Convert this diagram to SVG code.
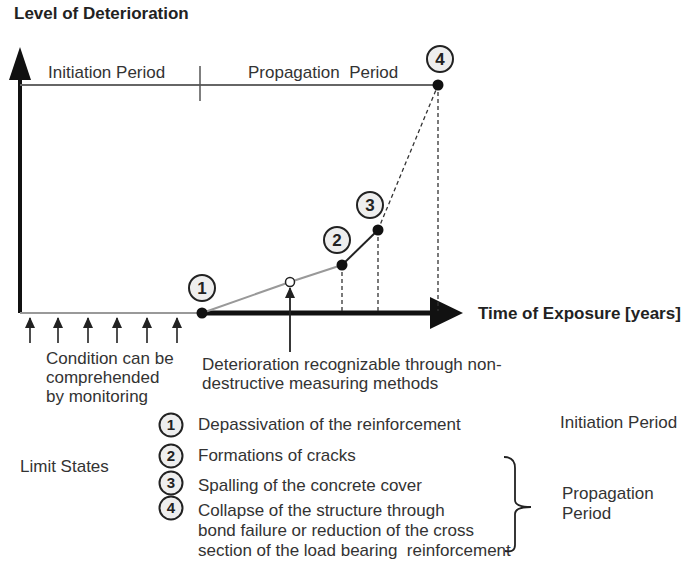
<svg xmlns="http://www.w3.org/2000/svg" width="681" height="561" viewBox="0 0 681 561">
<style>
text{font-family:"Liberation Sans",Arial,sans-serif;fill:#333;font-size:17px}
.b{font-weight:bold;fill:#222}
.num{font-weight:bold;font-size:17px;text-anchor:middle;fill:#222}
.lnum{font-size:15px}
.circ{fill:#eee;stroke:#222;stroke-width:2}
.dot{fill:#111}
.dash{stroke:#333;stroke-width:1.3;stroke-dasharray:4 3;fill:none}
</style>
<defs>
<marker id="sa" markerWidth="11" markerHeight="10" refX="10" refY="5" orient="auto" markerUnits="userSpaceOnUse" viewBox="0 0 11 10"><path d="M0,0 L11,5 L0,10 Z" fill="#222"/></marker>
</defs>
<rect width="681" height="561" fill="#fff"/>
<text class="b" x="14" y="19">Level of Deterioration</text>
<text class="b" x="478" y="319">Time of Exposure [years]</text>
<g id="axes">
<line x1="20" y1="313" x2="20" y2="74" stroke="#111" stroke-width="4"/>
<path d="M9,80 L20,47 L31,80 Z" fill="#111"/>
<line x1="20" y1="313" x2="202" y2="313" stroke="#999" stroke-width="2"/>
<line x1="202" y1="313" x2="436" y2="313" stroke="#111" stroke-width="5"/>
<path d="M430,297 L463,313 L430,329 Z" fill="#111"/>
</g>
<g id="periods">
<line x1="20" y1="85" x2="438" y2="85" stroke="#666" stroke-width="2"/>
<line x1="200" y1="66" x2="200" y2="101" stroke="#555" stroke-width="1.5"/>
<text x="48" y="78">Initiation Period</text>
<text x="248" y="78" xml:space="preserve">Propagation  Period</text>
</g>
<g id="connectors">
<polyline points="202,313 290,282 342,265" fill="none" stroke="#999" stroke-width="2"/>
<line x1="342" y1="265" x2="378" y2="230" stroke="#222" stroke-width="2"/>
<line x1="378" y1="230" x2="438" y2="85" class="dash"/>
<line x1="342" y1="265" x2="342" y2="311" class="dash"/>
<line x1="378" y1="230" x2="378" y2="311" class="dash"/>
<line x1="438" y1="85" x2="438" y2="311" class="dash"/>
<line x1="290" y1="352" x2="290" y2="288" stroke="#222" stroke-width="1.8" marker-end="url(#sa)"/>
<g stroke="#222" stroke-width="1.6" marker-end="url(#sa)">
<line x1="30" y1="343" x2="30" y2="318"/>
<line x1="58" y1="343" x2="58" y2="318"/>
<line x1="88" y1="343" x2="88" y2="318"/>
<line x1="117" y1="343" x2="117" y2="318"/>
<line x1="147" y1="343" x2="147" y2="318"/>
<line x1="177" y1="343" x2="177" y2="318"/>
</g>
</g>
<g id="p1"><circle class="dot" cx="202" cy="313" r="5.5"/><circle class="circ" cx="202" cy="288" r="13"/><text class="num" x="202" y="294">1</text></g>
<g id="pOpen"><circle cx="290" cy="282" r="4.5" fill="#fff" stroke="#222" stroke-width="1.5"/></g>
<g id="p2"><circle class="dot" cx="342" cy="265" r="5.5"/><circle class="circ" cx="337" cy="240" r="13"/><text class="num" x="337" y="246">2</text></g>
<g id="p3"><circle class="dot" cx="378" cy="230" r="5.5"/><circle class="circ" cx="370" cy="205" r="13"/><text class="num" x="370" y="211">3</text></g>
<g id="p4"><circle class="dot" cx="438" cy="85" r="5.5"/><circle class="circ" cx="440" cy="59" r="13"/><text class="num" x="440" y="65">4</text></g>
<g id="notes">
<text x="46" y="364">Condition can be</text>
<text x="46" y="383">comprehended</text>
<text x="46" y="402">by monitoring</text>
<text x="202" y="370">Deterioration recognizable through non-</text>
<text x="202" y="389">destructive measuring methods</text>
</g>
<g id="legend">
<text x="20" y="472">Limit States</text>
<circle class="circ" cx="171" cy="425" r="11.5"/><text class="num lnum" x="171" y="430">1</text>
<circle class="circ" cx="171" cy="456" r="11.5"/><text class="num lnum" x="171" y="461">2</text>
<circle class="circ" cx="171" cy="483" r="11.5"/><text class="num lnum" x="171" y="488">3</text>
<circle class="circ" cx="171" cy="508" r="11.5"/><text class="num lnum" x="171" y="513">4</text>
<text x="198" y="430">Depassivation of the reinforcement</text>
<text x="198" y="461">Formations of cracks</text>
<text x="198" y="491">Spalling of the concrete cover</text>
<text x="198" y="516">Collapse of the structure through</text>
<text x="198" y="536">bond failure or reduction of the cross</text>
<text x="198" y="556" xml:space="preserve">section of the load bearing  reinforcement</text>
<path d="M504,457 Q515,457 515,468 L515,500 Q515,507 531,507 Q515,507 515,514 L515,545 Q515,553 505,551" fill="none" stroke="#222" stroke-width="1.8"/>
<text x="560" y="428">Initiation Period</text>
<text x="562" y="499">Propagation</text>
<text x="562" y="519">Period</text>
</g>
</svg>
